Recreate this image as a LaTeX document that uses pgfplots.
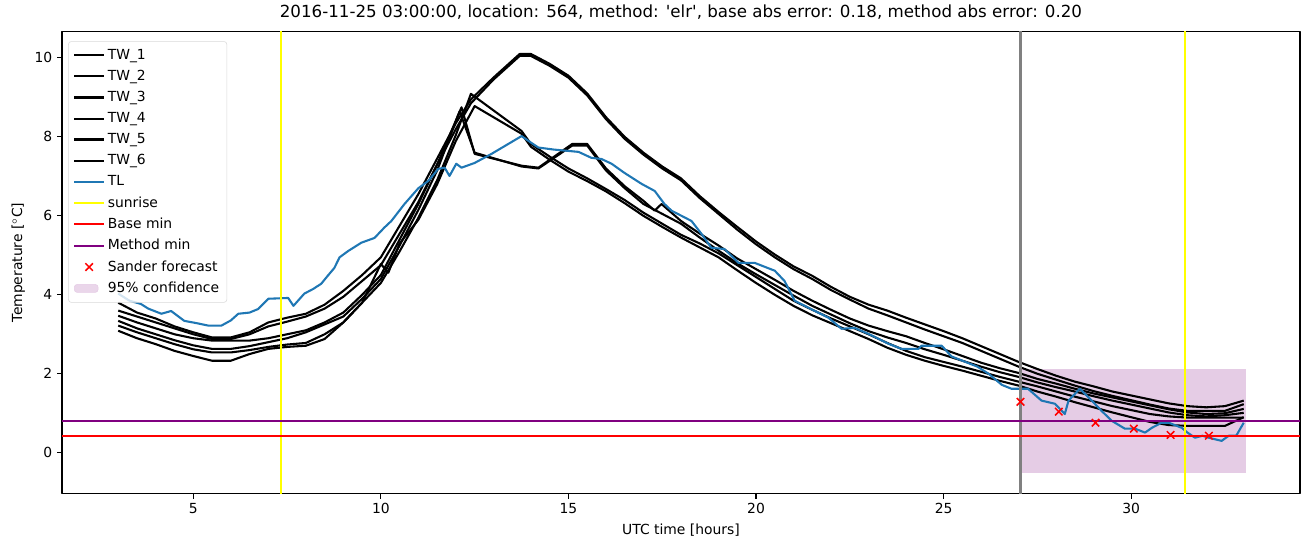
\documentclass[border=0pt]{standalone}
\usepackage{fontspec}
\setmainfont{DejaVu Sans}
\usepackage{pgfplots}
\pgfplotsset{compat=1.18}

\definecolor{tlblue}{HTML}{1F77B4}
\definecolor{sunyel}{HTML}{FFFF00}
\definecolor{mpurple}{HTML}{800080}
\definecolor{confpink}{HTML}{E5CCE5}

\begin{document}
\begin{tikzpicture}
\begin{axis}[
    scale only axis,
    width=891pt, height=333pt,
    xmin=1.5, xmax=34.5,
    ymin=-1.04, ymax=10.68,
    xtick={5,10,15,20,25,30},
    ytick={0,2,4,6,8,10},
    tick align=outside,
    xtick pos=bottom, ytick pos=left,
    major tick length=3.5pt,
    axis line style={line width=0.8pt},
    every tick/.style={line width=0.8pt, black},
    /pgf/number format/assume math mode=true,
    ticklabel style={font=\fontsize{10}{12}\selectfont},
    label style={font=\fontsize{10}{12}\selectfont},
    xlabel={UTC time [hours]},
    ylabel={Temperature [$^\circ$C]},
    title={2016-11-25 03:00:00, location: 564, method: {\textquotesingle}elr{\textquotesingle}, base abs error: 0.18, method abs error: 0.20},
    title style={font=\fontsize{12}{14}\selectfont, yshift=-1pt},
    legend cell align=left,
    legend style={font=\fontsize{10}{12}\selectfont, at={(0.005,0.978)}, anchor=north west,
        draw=black!15, rounded corners=2pt, fill=white, fill opacity=0.8, text opacity=1,
        row sep=2.3pt, inner sep=3.5pt},
    legend image code/.code={\draw[mark repeat=2,mark phase=2,#1] plot coordinates {(0cm,0cm) (0.375cm,0cm) (0.75cm,0cm)};},
    line join=round,
]
% 95% confidence band
\addplot[fill=confpink, draw=none, forget plot] coordinates {(27,-0.52) (33.05,-0.52) (33.05,2.13) (27,2.13)} -- cycle;

% TW_1
\addplot[black, line width=1.5pt] table {
x y
3.0 3.80
3.5 3.55
4.0 3.40
4.5 3.20
5.0 3.05
5.5 2.92
6.0 2.92
6.5 3.05
7.0 3.30
7.5 3.42
8.0 3.52
8.5 3.75
9.0 4.10
9.5 4.50
10.0 4.95
10.5 5.75
11.0 6.55
11.5 7.45
12.0 8.35
12.4 8.95
13.0 9.50
13.7 10.10
14.0 10.10
14.5 9.85
15.0 9.55
15.5 9.10
16.0 8.50
16.5 8.00
17.0 7.60
17.5 7.25
18.0 6.95
18.5 6.50
19.0 6.10
19.5 5.72
20.0 5.35
20.5 5.02
21.0 4.72
21.5 4.48
22.0 4.20
22.5 3.95
23.0 3.75
23.5 3.60
24.0 3.42
24.5 3.25
25.0 3.08
25.5 2.90
26.0 2.70
26.5 2.50
27.0 2.30
27.5 2.12
28.0 1.95
28.5 1.80
29.0 1.68
29.5 1.55
30.0 1.45
30.5 1.35
31.0 1.25
31.5 1.18
32.0 1.15
32.5 1.18
33.0 1.32
};
\addlegendentry{TW\_1}

% TW_2
\addplot[black, line width=1.5pt] table {
x y
3.0 3.60
3.5 3.45
4.0 3.30
4.5 3.15
5.0 3.00
5.5 2.88
6.0 2.88
6.5 3.00
7.0 3.20
7.5 3.32
8.0 3.45
8.5 3.65
9.0 3.95
9.5 4.35
10.0 4.75
10.5 5.55
11.0 6.35
11.5 7.30
12.0 8.20
12.4 8.85
13.0 9.45
13.7 10.05
14.0 10.05
14.5 9.80
15.0 9.50
15.5 9.05
16.0 8.45
16.5 7.95
17.0 7.55
17.5 7.20
18.0 6.90
18.5 6.45
19.0 6.05
19.5 5.65
20.0 5.28
20.5 4.95
21.0 4.65
21.5 4.40
22.0 4.12
22.5 3.88
23.0 3.65
23.5 3.48
24.0 3.30
24.5 3.12
25.0 2.95
25.5 2.78
26.0 2.58
26.5 2.38
27.0 2.18
27.5 2.00
28.0 1.85
28.5 1.70
29.0 1.56
29.5 1.44
30.0 1.33
30.5 1.22
31.0 1.12
31.5 1.06
32.0 1.06
32.5 1.06
33.0 1.23
};
\addlegendentry{TW\_2}

% TW_3
\addplot[black, line width=1.5pt] table {
x y
3.0 3.47
3.5 3.30
4.0 3.15
4.5 3.00
5.0 2.90
5.5 2.84
6.0 2.84
6.5 2.84
7.0 2.90
7.5 3.00
8.0 3.10
8.5 3.30
9.0 3.55
9.5 4.00
10.0 4.50
10.5 5.40
11.0 6.30
11.5 7.30
12.15 8.75
12.5 7.57
13.75 7.27
14.2 7.22
15.1 7.82
15.5 7.82
16.0 7.20
16.5 6.75
17.0 6.38
17.3 6.13
17.48 6.30
18.0 5.87
18.5 5.55
19.0 5.25
19.5 4.92
20.0 4.65
20.5 4.38
21.0 4.10
21.5 3.85
22.0 3.62
22.5 3.40
23.0 3.22
23.5 3.08
24.0 2.95
24.5 2.78
25.0 2.62
25.5 2.45
26.0 2.28
26.5 2.14
27.0 2.02
27.5 1.87
28.0 1.75
28.5 1.62
29.0 1.50
29.5 1.40
30.0 1.30
30.5 1.20
31.0 1.10
31.5 1.02
32.0 0.98
32.5 1.00
33.0 1.11
};
\addlegendentry{TW\_3}

% TW_4
\addplot[black, line width=1.5pt] table {
x y
3.0 3.34
3.5 3.15
4.0 3.00
4.5 2.85
5.0 2.72
5.5 2.63
6.0 2.63
6.5 2.70
7.0 2.80
7.5 2.90
8.0 3.05
8.5 3.25
9.0 3.45
9.5 3.90
10.0 4.40
10.5 5.25
11.0 6.15
11.5 7.15
12.1 8.65
12.5 7.60
13.75 7.25
14.2 7.20
15.1 7.78
15.5 7.78
16.0 7.15
16.5 6.70
17.0 6.30
17.5 6.05
18.0 5.80
18.5 5.45
19.0 5.12
19.5 4.80
20.0 4.52
20.5 4.25
21.0 3.98
21.5 3.72
22.0 3.50
22.5 3.28
23.0 3.08
23.5 2.92
24.0 2.78
24.5 2.62
25.0 2.48
25.5 2.33
26.0 2.18
26.5 2.04
27.0 1.92
27.5 1.78
28.0 1.66
28.5 1.55
29.0 1.43
29.5 1.32
30.0 1.22
30.5 1.12
31.0 1.02
31.5 0.95
32.0 0.92
32.5 0.95
33.0 1.01
};
\addlegendentry{TW\_4}

% TW_5
\addplot[black, line width=1.5pt] table {
x y
3.0 3.22
3.5 3.05
4.0 2.90
4.5 2.75
5.0 2.62
5.5 2.54
6.0 2.54
6.5 2.60
7.0 2.68
7.5 2.74
8.0 2.78
8.5 3.00
9.0 3.30
9.5 3.80
10.0 4.30
10.5 5.10
11.0 5.95
11.5 6.90
12.0 8.05
12.4 9.09
13.75 8.15
14.0 7.82
14.5 7.50
15.0 7.20
15.5 6.95
16.0 6.68
16.5 6.40
17.0 6.08
17.5 5.80
18.0 5.52
18.5 5.30
19.0 5.05
19.5 4.75
20.0 4.45
20.5 4.15
21.0 3.85
21.5 3.62
22.0 3.40
22.5 3.20
23.0 3.00
23.5 2.78
24.0 2.58
24.5 2.42
25.0 2.30
25.5 2.18
26.0 2.05
26.5 1.92
27.0 1.80
27.5 1.68
28.0 1.55
28.5 1.42
29.0 1.30
29.5 1.18
30.0 1.08
30.5 0.98
31.0 0.92
31.5 0.89
32.0 0.89
32.5 0.89
33.0 0.89
};
\addlegendentry{TW\_5}

% TW_6
\addplot[black, line width=1.5pt] table {
x y
3.0 3.09
3.5 2.90
4.0 2.75
4.5 2.58
5.0 2.45
5.5 2.33
6.0 2.33
6.5 2.50
7.0 2.63
7.5 2.68
8.0 2.71
8.5 2.88
9.0 3.30
9.5 3.80
10.0 4.78
10.2 4.56
10.5 5.30
11.0 5.90
11.5 6.80
12.0 7.90
12.5 8.78
13.75 8.08
14.0 7.75
14.5 7.42
15.0 7.12
15.5 6.88
16.0 6.62
16.5 6.32
17.0 6.00
17.5 5.72
18.0 5.45
18.5 5.20
19.0 4.95
19.5 4.62
20.0 4.30
20.5 4.00
21.0 3.72
21.5 3.48
22.0 3.28
22.5 3.08
23.0 2.88
23.5 2.66
24.0 2.48
24.5 2.33
25.0 2.20
25.5 2.08
26.0 1.95
26.5 1.82
27.0 1.70
27.5 1.55
28.0 1.42
28.5 1.28
29.0 1.15
29.5 1.02
30.0 0.90
30.5 0.78
31.0 0.70
31.5 0.68
32.0 0.68
32.5 0.68
33.0 0.90
};
\addlegendentry{TW\_6}

% TL
\addplot[tlblue, line width=1.5pt] table {
x y
3.0 4.03
3.3 3.85
3.6 3.77
3.8 3.65
4.15 3.52
4.41 3.59
4.76 3.34
5.1 3.28
5.4 3.22
5.75 3.22
6.0 3.35
6.2 3.52
6.5 3.55
6.73 3.64
7.0 3.90
7.53 3.92
7.67 3.72
7.96 4.03
8.2 4.15
8.41 4.28
8.6 4.50
8.76 4.68
8.9 4.95
9.13 5.11
9.48 5.32
9.83 5.44
10.09 5.70
10.28 5.87
10.63 6.30
11.0 6.70
11.27 6.89
11.53 7.19
11.7 7.22
11.83 7.01
12.01 7.32
12.15 7.22
12.5 7.34
12.95 7.57
13.75 8.02
14.01 7.85
14.2 7.73
14.6 7.68
15.27 7.62
15.61 7.47
15.88 7.44
16.15 7.32
16.49 7.09
16.95 6.81
17.3 6.63
17.56 6.30
17.75 6.13
18.28 5.87
18.55 5.54
18.81 5.19
19.16 5.16
19.53 4.81
19.96 4.81
20.5 4.61
20.76 4.35
21.03 3.85
21.4 3.67
21.93 3.42
22.28 3.14
22.63 3.16
23.0 3.01
23.53 2.76
23.88 2.63
24.33 2.63
24.41 2.71
24.95 2.71
25.21 2.44
25.9 2.18
26.2 2.00
26.55 1.72
26.81 1.62
27.25 1.62
27.61 1.32
27.97 1.24
28.23 0.98
28.33 1.32
28.63 1.62
28.95 1.32
29.21 1.06
29.48 0.81
29.83 0.61
30.1 0.61
30.37 0.51
30.55 0.63
30.81 0.76
31.0 0.76
31.35 0.63
31.5 0.51
31.7 0.38
31.9 0.43
32.07 0.38
32.41 0.30
32.6 0.43
32.8 0.43
33.0 0.76
};
\addlegendentry{TL}

% sunrise
\addplot[sunyel, line width=1.5pt] coordinates {(7.35,-1.04) (7.35,10.68)};
\addlegendentry{sunrise}
\addplot[sunyel, line width=1.5pt, forget plot] coordinates {(31.43,-1.04) (31.43,10.68)};

% forecast start
\addplot[gray, line width=1.5pt, forget plot] coordinates {(27.05,-1.04) (27.05,10.68)};

% Base min / Method min
\addplot[red, line width=1.5pt] coordinates {(1.5,0.43) (34.5,0.43)};
\addlegendentry{Base min}
\addplot[mpurple, line width=1.5pt] coordinates {(1.5,0.81) (34.5,0.81)};
\addlegendentry{Method min}

% Sander forecast
\addplot[red, only marks, mark=x, mark size=3.8pt, line width=1.1pt] coordinates {
(27.05,1.29) (28.07,1.04) (29.05,0.76) (30.07,0.61) (31.05,0.45) (32.07,0.43)};
\addlegendentry{Sander forecast}

\addlegendimage{area legend, fill=confpink, draw=confpink}
\addlegendentry{95\% confidence}
\end{axis}
\path (current axis.south west) ++(-44.6pt,-38.9pt);
\path (current axis.north east) ++(7.2pt,21.6pt);
\end{tikzpicture}
\end{document}
